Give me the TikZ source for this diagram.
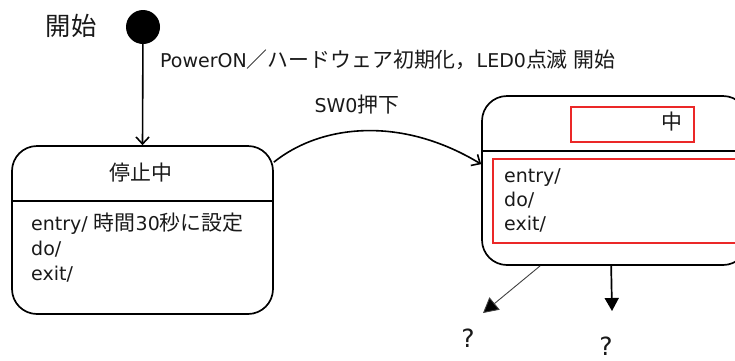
\documentclass[tikz,border=0pt]{standalone}
\usepackage{fontspec}
\setmainfont{DejaVu Sans}
\newfontfamily\jp[Scale=1.1]{Noto Sans CJK JP}
\usetikzlibrary{arrows.meta}

\definecolor{markred}{RGB}{235,40,40}

\tikzset{
  txt/.style={font=\fontsize{19}{25}\selectfont, inner sep=0pt, text=black!90},
  statebox/.style={draw, line width=1.7pt, rounded corners=25pt, inner sep=0pt},
  redbox/.style={draw=markred, line width=1.1pt, inner sep=0pt},
  divider/.style={line width=1.7pt},
  openarrow/.style={line width=1.6pt, -{Straight Barb[length=7pt,width=13pt,line width=1.6pt]}},
  solidarrow/.style={line width=1.7pt, -{Triangle[length=13pt,width=14pt]}},
  thinarrow/.style={line width=0.9pt, draw=black!75, -{Triangle[length=15pt,width=16pt,fill=black]}}
}

\begin{document}
\begin{tikzpicture}[x=1pt,y=-1pt]
\useasboundingbox (0,0) rectangle (735,360);
\clip (0,0) rectangle (735,360);

% initial pseudo-state
\node[txt, font=\fontsize{23}{28}\selectfont] (starttxt) at (71,26) {\jp 開始};
\node[circle, fill=black, minimum size=34pt, inner sep=0pt] (init) at (143,27) {};
\node[txt, anchor=west] (initlbl) at (160,60)
  {PowerON{\jp ／ハードウェア初期化，}LED0{\jp 点滅} {\jp 開始}};

% state: stopped
\node[statebox, minimum width=261pt, minimum height=168pt] (stop) at (142.5,230) {};
\draw[divider] ([yshift=-56pt]stop.north west) -- ([yshift=-56pt]stop.north east);
\node[txt] (stopname) at (141,173) {\jp 停止中};
\node[txt, anchor=west, align=left] (stopacts) at (31,248)
  {entry/ {\jp 時間}30{\jp 秒に設定}\\do/\\exit/};

% state: active (running off to the right)
\node[statebox, minimum width=266pt, minimum height=169pt] (act) at (615,180.5) {};
\draw[divider] ([yshift=-56pt]act.north west) -- ([yshift=-56pt]act.north east);
\node[redbox, minimum width=123pt, minimum height=35pt] (actnamebox) at (632.5,124.5) {};
\node[txt] (actname) at (672,122) {\jp 中};
\node[redbox, minimum width=267pt, minimum height=84pt] (actactsbox) at (626.5,201) {};
\node[txt, anchor=west, align=left, font=\fontsize{19}{24}\selectfont] (actacts) at (504,200)
  {entry/\\do/\\exit/};

% transitions
\draw[openarrow] (init) -- (stop.north);
\draw[openarrow] ([yshift=-17pt]stop.north east)
  .. controls (320,125) and (400,115) .. ([yshift=-69pt]act.north west);
\node[txt] (swlbl) at (357,105) {SW0{\jp 押下}};

\coordinate (tipa) at (483,313);
\coordinate (tipb) at (612,311);
\draw[thinarrow] ([xshift=59pt]act.south west) -- (tipa);
\draw[solidarrow] ([xshift=130pt]act.south west) -- (tipb);
\node[txt, font=\fontsize{25}{30}\selectfont] (qa) at (468,338) {?};
\node[txt, font=\fontsize{25}{30}\selectfont] (qb) at (606,346) {?};
\end{tikzpicture}
\end{document}
